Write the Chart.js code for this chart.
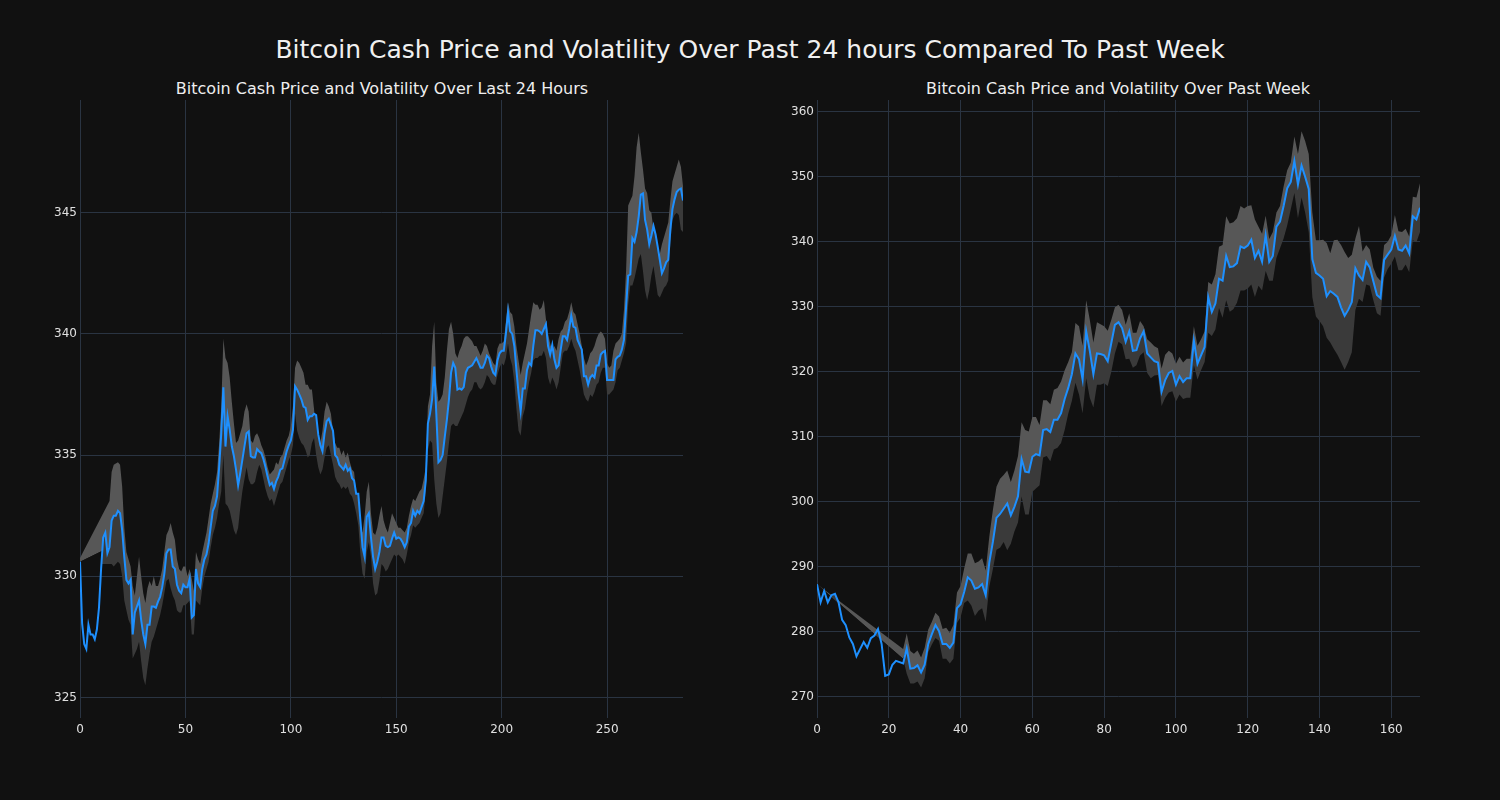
<!DOCTYPE html>
<html lang="en">
<head>
    <meta charset="UTF-8">
    <title>Bitcoin Cash Price and Volatility</title>
    <script src="https://cdn.jsdelivr.net/npm/chart.js"></script>
    <style>
        body {
            margin: 0;
            background: #111111;
            width: 1500px;
            height: 800px;
            overflow: hidden;
            font-family: "DejaVu Sans", sans-serif;
        }
        #mainTitle {
            position: absolute;
            left: 0;
            top: 35px;
            width: 1500px;
            text-align: center;
            line-height: 30px;
            font-size: 25px;
            color: #f0f0f0;
        }
        .subTitle {
            position: absolute;
            top: 79px;
            width: 700px;
            text-align: center;
            line-height: 20px;
            font-size: 16px;
            color: #eeeeee;
        }
        canvas {
            position: absolute;
            top: 70px;
        }
    </style>
</head>
<body>
    <div id="mainTitle">Bitcoin Cash Price and Volatility Over Past 24 hours Compared To Past Week</div>
    <div class="subTitle" style="left:32px">Bitcoin Cash Price and Volatility Over Last 24 Hours</div>
    <div class="subTitle" style="left:768px">Bitcoin Cash Price and Volatility Over Past Week</div>
    <canvas id="dayChart" width="700" height="680" style="left:0px"></canvas>
    <canvas id="weekChart" width="700" height="680" style="left:737px"></canvas>

    <script>
        // ---- last 24 hours (x = 0..286) ----
        const dayPrice = [
            330.6, 328.06, 327.2, 327.0, 328.0, 327.6, 327.6, 327.4, 327.8, 328.7,
            330.3, 331.6, 331.8, 330.95, 331.2, 332.3, 332.5, 332.5, 332.7, 332.6,
            331.9, 330.8, 329.85, 329.7, 329.85, 327.6, 328.5, 328.75, 329.0, 328.2,
            327.6, 327.2, 328.0, 328.0, 328.75, 328.75, 328.7, 328.95, 329.15, 329.55,
            330.1, 330.95, 331.1, 331.1, 330.4, 330.3, 329.65, 329.4, 329.3, 329.65,
            329.55, 329.55, 329.9, 328.3, 328.4, 330.3, 329.7, 329.55, 330.3, 330.7,
            330.9, 331.35, 332.05, 332.7, 332.9, 333.3, 334.5, 335.9, 337.8, 335.35,
            336.6, 336.05, 335.36, 334.95, 334.4, 333.75, 334.25, 334.8, 335.36, 335.9,
            335.97, 334.95, 334.9, 334.9, 335.25, 335.15, 335.08, 334.83, 334.5, 334.1,
            333.76, 333.85, 333.6, 333.9, 334.1, 334.4, 334.45, 334.8, 335.15, 335.4,
            335.6, 336.05, 337.84, 337.7, 337.5, 337.3, 337.0, 336.95, 336.45, 336.6,
            336.6, 336.7, 336.65, 335.85, 335.4, 335.15, 335.9, 336.4, 336.5, 336.25,
            336.0, 335.0, 334.9, 334.6, 334.5, 334.4, 334.6, 334.35, 334.45, 334.05,
            333.95, 333.4, 333.4, 332.3, 331.2, 330.8, 332.45, 332.6, 331.6, 330.8,
            330.3, 330.6, 331.0, 331.6, 331.6, 331.25, 331.2, 331.25, 331.55, 331.8,
            331.55, 331.6, 331.55, 331.4, 331.2, 331.4, 332.05, 332.2, 332.7, 332.5,
            332.7, 332.6, 332.85, 333.1, 333.95, 336.3, 336.7, 337.3, 338.65, 336.7,
            334.7, 334.8, 335.0, 335.75, 336.45, 337.3, 338.4, 338.8, 338.6, 337.7,
            337.75, 337.7, 337.8, 338.4, 338.6, 338.65, 338.7, 338.85, 339.0, 338.8,
            338.6, 338.6, 338.8, 339.1, 339.0, 338.65, 338.4, 338.3, 338.9, 339.2,
            339.3, 339.3, 340.0, 340.9, 340.1, 340.0, 339.5, 338.5, 337.55, 336.8,
            337.75, 337.75, 338.5, 338.8, 338.7, 339.5, 340.15, 340.15, 340.1, 340.0,
            340.2, 340.4, 339.5, 339.15, 339.55, 338.95, 338.6, 338.7, 339.35, 339.9,
            339.9, 339.75, 340.2, 340.75, 340.3, 340.25, 339.75, 339.55, 339.35, 338.25,
            338.25, 337.9, 338.2, 338.3, 338.2, 338.7, 338.7, 339.15, 339.25, 339.3,
            338.1, 338.1, 338.1, 338.1, 338.95, 339.05, 339.1, 339.35, 339.75, 341.1,
            342.4, 342.45, 343.95, 343.8, 344.2, 344.85, 345.75, 345.8, 344.7, 344.3,
            343.7, 344.05, 344.45, 344.1, 343.6, 343.05, 342.5, 342.7, 342.95, 343.05,
            344.3, 345.15, 345.55, 345.85, 345.95, 346.0, 345.5
        ];
        // volatility band starts at x=0, then is defined from x=14 on
        const dayBandStart = 14;
        const dayUpper = [
            330.75, 333.1,
            334.3, 334.6, 334.65, 334.7, 334.6, 333.7, 332.0, 331.0, 330.7, 330.4,
            329.6, 329.2, 330.0, 330.8, 330.0, 329.3, 328.9, 329.5, 329.8, 329.6,
            330.0, 329.6, 329.6, 329.9, 330.3, 331.0, 331.7, 331.9, 332.2, 331.8,
            331.5, 330.7, 330.3, 330.2, 330.4, 330.4, 330.0, 330.3, 329.9, 329.4,
            331.0, 330.7, 330.5, 331.0, 331.4, 331.8, 332.4, 333.0, 333.4, 333.8,
            334.3, 335.5, 337.0, 339.8, 339.0, 338.8, 338.2, 337.2, 336.3, 335.5,
            335.6, 335.9, 336.2, 336.8, 337.1, 336.8, 335.6, 335.5, 335.8, 335.9,
            335.7, 335.4, 335.2, 334.9, 334.5, 334.2, 334.3, 334.4, 334.7, 334.6,
            334.9, 335.0, 335.3, 335.6, 335.8, 336.2, 337.0, 338.6, 338.9, 338.8,
            338.6, 338.4, 337.9, 337.9, 337.7, 337.7, 336.9, 335.8, 335.5, 335.5,
            336.0, 336.8, 337.2, 337.0, 336.7, 336.0, 335.5, 335.3, 335.3, 335.0,
            335.2, 334.9, 335.1, 334.7, 334.4, 334.3, 333.4, 332.7, 332.0, 331.8,
            332.5, 333.5, 333.9, 332.6, 331.8, 331.7, 332.0, 332.5, 332.9, 332.3,
            332.0, 331.8, 332.2, 332.6, 332.4, 332.2, 332.0, 332.0, 331.9, 331.8,
            332.0, 332.5, 332.9, 333.2, 333.1, 333.3, 333.5, 333.6, 334.0, 334.5,
            337.0, 337.5, 339.5, 340.5, 338.0, 337.2, 337.3, 337.5, 338.2, 339.3,
            340.2, 340.5, 340.0, 339.2, 339.0, 339.3, 339.5, 339.8, 339.9, 339.9,
            339.8, 339.7, 339.5, 339.5, 339.3, 339.1, 339.3, 339.6, 339.5, 339.2,
            339.0, 338.8, 338.7, 339.4, 339.6, 339.6, 339.7, 340.5, 341.3, 340.9,
            340.8, 340.3, 339.5, 338.9, 338.3, 338.8, 339.2, 339.6, 340.2, 340.8,
            341.3, 341.2, 341.2, 341.0, 341.1, 341.4, 340.6, 340.0, 339.6, 339.3,
            339.5, 339.3, 339.8, 340.1, 340.2, 340.5, 340.6, 340.9, 341.3, 340.9,
            340.8, 340.4, 340.0, 339.5, 339.0, 338.7, 338.9, 339.2, 339.3, 339.5,
            339.8, 340.0, 340.1, 340.0, 339.8, 338.8, 338.6, 338.7, 339.3, 339.6,
            339.7, 339.8, 340.0, 341.0, 342.6, 345.3, 345.5, 345.7, 346.5, 347.7,
            348.3, 347.5, 346.8, 346.0, 345.8, 345.1, 345.0, 344.3, 343.6, 343.2,
            343.3, 343.7, 344.0, 344.3, 344.6, 345.5, 346.3, 346.6, 346.9, 347.2,
            346.9, 346.1
        ];
        const dayLower = [
            330.5, 330.5,
            330.5, 330.4, 330.5, 330.6, 330.5, 330.0, 329.0, 328.6, 328.2, 328.0,
            326.6, 326.8, 327.0, 327.3, 326.5, 325.8, 325.5, 326.2, 326.8, 327.3,
            327.5, 327.8, 328.1, 328.4, 328.8, 329.3, 329.8, 329.9, 329.5, 329.2,
            329.0, 328.6, 328.5, 328.5, 328.8, 328.8, 328.9, 329.0, 327.6, 327.6,
            329.0, 328.9, 328.8, 329.5, 330.0, 330.3, 330.6, 331.2, 331.7, 332.0,
            332.4, 333.0, 333.5, 335.0, 333.0, 332.9, 332.7, 332.3, 331.9, 331.7,
            332.0, 332.8, 333.5, 334.0, 334.5, 334.0, 333.8, 333.8, 333.9, 334.3,
            334.6, 334.4, 334.0, 333.6, 333.3, 333.1, 333.2, 332.9, 333.2, 333.5,
            333.8, 333.9, 334.2, 334.5, 334.8, 335.0, 335.4, 336.7, 336.0, 335.7,
            335.5, 335.4, 335.2, 334.9, 335.0, 335.5, 335.7, 335.0, 334.5, 334.2,
            334.4, 334.9, 335.3, 335.4, 335.0, 334.6, 334.1, 333.9, 333.8, 333.6,
            333.7, 333.6, 333.7, 333.4, 333.3, 333.0, 332.6, 332.1, 330.9, 330.1,
            329.9, 331.0, 331.4, 330.8, 329.7, 329.2, 329.3, 329.8, 330.5, 330.4,
            330.2, 330.3, 330.5, 330.7, 330.9, 330.8, 330.9, 330.8, 330.7, 330.5,
            330.9, 331.4, 331.7, 332.1, 332.0, 332.1, 332.2, 332.4, 332.6, 333.5,
            335.2, 335.6, 335.5, 334.0, 333.0, 332.4, 332.6, 333.3, 334.0, 334.7,
            335.5, 336.2, 336.3, 336.2, 336.2, 336.4, 336.6, 336.8, 337.1, 337.4,
            337.6, 337.7, 338.0, 338.0, 337.8, 337.7, 337.8, 338.0, 338.3, 338.2,
            338.0, 337.9, 337.9, 338.3, 338.6, 338.8, 338.7, 339.0, 339.6, 339.0,
            338.7, 338.0, 336.9, 336.0, 335.8, 336.6, 336.9, 337.5, 338.0, 338.4,
            338.9, 339.0, 339.0, 339.1, 339.1, 339.3, 339.0, 338.2, 337.9, 338.2,
            338.0, 337.7, 338.0, 338.6, 339.2, 339.3, 339.3, 339.5, 339.8, 339.5,
            339.3, 338.9, 338.5, 338.0, 337.5, 337.3, 337.2, 337.5, 337.4, 337.6,
            337.9, 338.0, 338.4, 338.6, 338.6, 337.5, 337.5, 337.6, 337.7, 338.0,
            338.5, 338.6, 338.9, 339.2, 339.6, 341.2, 342.0, 342.0, 342.3, 342.7,
            343.1, 343.3, 342.6, 341.8, 341.4, 341.8, 342.4, 342.8, 342.2, 341.6,
            341.5, 341.7, 341.9, 342.0, 342.2, 343.8, 344.7, 344.9, 345.0, 344.9,
            344.3, 344.2
        ];
        const dayXTicks = [0, 50, 100, 150, 200, 250];
        const dayYTicks = [325, 330, 335, 340, 345];

        // ---- past week (x = 0..168) ----
        const weekPrice = [
            287.3, 284.5, 286.25, 284.5, 285.6, 285.8, 284.5, 281.8, 281.0, 279.1,
            278.1, 276.2, 277.3, 278.4, 277.5, 279.0, 279.4, 280.4, 278.1, 273.2,
            273.4, 274.9, 275.5, 275.3, 275.1, 277.4, 274.3, 274.4, 274.8, 273.7,
            274.9, 278.1, 279.6, 281.0, 280.05, 278.1, 278.1, 277.5, 278.3, 283.6,
            284.2, 286.1, 288.35, 287.85, 286.6, 286.8, 287.3, 285.6, 290.6, 293.8,
            297.5, 298.1, 298.9, 299.7, 297.9, 299.2, 300.8, 306.55, 304.6, 304.5,
            306.9, 307.3, 307.1, 311.0, 311.15, 310.7, 312.6, 312.6, 313.6, 315.8,
            317.5, 319.6, 322.8, 321.9, 318.8, 326.2, 323.2, 319.6, 322.8, 322.7,
            322.5, 321.6, 324.4, 327.2, 327.6, 326.7, 324.6, 326.2, 323.2, 323.3,
            325.1, 326.2, 322.8, 322.2, 321.6, 321.4, 316.9, 318.7, 319.8, 320.1,
            318.0, 319.3, 318.4, 319.0, 319.0, 324.75, 321.2, 322.5, 323.8, 331.45,
            329.2, 330.5, 334.3, 334.0, 337.8, 336.1, 336.2, 336.7, 339.25, 339.0,
            339.4, 340.3, 337.5, 338.6, 336.9, 341.0, 336.9, 337.8, 342.3, 343.1,
            345.5, 348.2, 349.2, 352.4, 348.8, 351.7, 350.0, 348.1, 337.3, 335.2,
            334.8, 334.3, 331.6, 332.4, 332.0, 331.5, 329.9, 328.6, 329.5, 330.7,
            335.9, 334.8, 334.1, 336.9, 336.05, 333.9, 331.8, 331.3, 337.2, 338.0,
            338.8, 340.9, 338.8, 338.6, 339.4, 338.2, 343.9, 343.4, 345.2
        ];
        // volatility band starts at x=0, then is defined from x=24 on
        const weekBandStart = 24;
        const weekUpper = [
            287.3, 277.3,
            279.7, 277.0, 276.6, 277.1, 276.0, 277.5, 280.3, 281.5, 282.9, 282.3,
            280.4, 280.6, 279.8, 281.0, 286.0, 287.0, 289.7, 292.0, 292.0, 290.5,
            290.8, 291.3, 289.4, 294.6, 298.7, 302.3, 303.5, 304.1, 304.8, 303.0,
            304.8, 307.0, 312.2, 311.0, 310.8, 313.0, 313.0, 311.8, 315.6, 315.6,
            315.0, 317.2, 317.5, 318.5, 320.2, 321.5, 323.0, 327.5, 327.0, 324.0,
            331.0, 328.0, 324.5, 327.6, 327.3, 327.0, 326.3, 328.0, 329.9, 330.3,
            329.5, 327.2, 329.0, 326.0, 326.0, 327.8, 327.0, 325.0, 324.5, 323.9,
            323.6, 320.5, 322.6, 323.2, 322.8, 321.2, 322.3, 321.4, 322.0, 322.0,
            327.0, 324.0, 325.0, 326.2, 333.8, 333.4, 335.0, 339.2, 339.5, 343.9,
            342.8, 343.0, 343.6, 345.5, 345.1, 345.5, 345.6, 343.4, 342.3, 341.2,
            344.0, 340.4, 341.5, 344.5, 345.5, 348.5, 351.0, 352.2, 356.2, 353.5,
            357.0, 355.5, 353.5, 344.5, 340.2, 340.2, 340.3, 339.8, 338.2, 340.2,
            340.3, 339.5, 338.4, 337.5, 338.0, 340.5, 342.4, 338.5, 339.5, 338.8,
            336.0, 334.6, 334.0, 339.5, 340.0, 341.0, 344.1, 341.6, 341.5, 342.0,
            340.8, 346.9, 346.8, 349.0
        ];
        const weekLower = [
            287.2, 275.8,
            273.5, 272.0, 272.0, 272.3, 271.4, 272.8, 276.8, 278.0, 279.0, 278.6,
            275.8, 275.8, 275.1, 275.8, 281.3, 282.2, 284.4, 284.8, 284.0, 282.4,
            283.2, 283.6, 281.5, 286.9, 289.6, 292.6, 292.9, 293.8, 292.5, 293.5,
            295.4, 296.8, 300.8, 298.0, 298.0, 301.5, 302.0, 302.5, 306.8, 307.0,
            306.2, 308.0, 308.3, 309.0, 311.0, 313.5, 315.5, 318.3, 316.5, 313.6,
            319.0, 316.0, 314.5, 318.0, 318.0, 318.2, 317.8, 320.0, 322.8, 324.6,
            324.2, 321.9, 322.0, 320.6, 321.0, 322.5, 323.0, 319.8, 319.0, 319.4,
            319.5, 314.7, 316.0, 316.8, 317.0, 315.4, 316.5, 315.8, 316.0, 316.0,
            321.0, 318.8, 320.2, 321.5, 326.0, 325.5, 326.5, 329.8, 328.3, 331.0,
            329.2, 329.6, 330.6, 332.5, 332.5, 332.8, 333.4, 331.5, 333.2, 332.5,
            335.5, 334.0, 334.0, 337.5, 339.0, 340.5, 342.5, 345.0, 347.5, 343.6,
            346.8, 344.5, 341.5, 331.5, 328.5, 327.8, 327.0, 325.2, 324.5, 323.5,
            322.6, 321.5, 320.3, 321.5, 323.0, 329.5, 331.2, 330.7, 333.4, 333.2,
            331.0, 329.0, 328.6, 334.5, 335.8, 336.6, 337.7, 335.6, 335.6, 336.5,
            335.3, 340.2, 339.9, 341.5
        ];
        const weekXTicks = [0, 20, 40, 60, 80, 100, 120, 140, 160];
        const weekYTicks = [270, 280, 290, 300, 310, 320, 330, 340, 350, 360];

        const LINE_COLOR = '#1e90ff';
        const BAND_UP = '#575757';
        const BAND_DOWN = '#3a3a3a';
        const GRID = '#2a3442';
        const TICK = '#e0e0e0';

        function bandXs(start, last) {
            const xs = [0];
            for (let x = start; x <= last; x++) xs.push(x);
            return xs;
        }

        function createChart(canvasId, price, bandStart, upper, lower, xTicks, yTicks, xMax, yMin, yMax) {
            const xs = bandXs(bandStart, price.length - 1);
            const linePts = price.map((v, i) => ({ x: i, y: v }));
            const upperPts = upper.map((v, i) => ({ x: xs[i], y: v }));
            const lowerPts = lower.map((v, i) => ({ x: xs[i], y: v }));
            // edge between the light (upper) and dark (lower) part of the band
            const midPts = lower.map((v, i) => ({ x: xs[i], y: Math.max(v, price[xs[i]]) }));

            const ctx = document.getElementById(canvasId).getContext('2d');
            new Chart(ctx, {
                type: 'line',
                data: {
                    datasets: [
                        {
                            label: 'Price',
                            data: linePts,
                            borderColor: LINE_COLOR,
                            borderWidth: 2,
                            pointRadius: 0,
                            tension: 0,
                            fill: false,
                            order: 0
                        },
                        {
                            label: 'upper',
                            data: upperPts,
                            borderWidth: 0,
                            borderColor: 'rgba(0,0,0,0)',
                            pointRadius: 0,
                            fill: { target: 2, above: BAND_UP, below: 'rgba(0,0,0,0)' },
                            order: 2
                        },
                        {
                            label: 'mid',
                            data: midPts,
                            borderWidth: 0,
                            borderColor: 'rgba(0,0,0,0)',
                            pointRadius: 0,
                            fill: false,
                            order: 3
                        },
                        {
                            label: 'lower',
                            data: lowerPts,
                            borderWidth: 0,
                            borderColor: 'rgba(0,0,0,0)',
                            pointRadius: 0,
                            fill: { target: 0, above: 'rgba(0,0,0,0)', below: BAND_DOWN },
                            order: 1
                        }
                    ]
                },
                options: {
                    responsive: false,
                    animation: false,
                    devicePixelRatio: 1,
                    layout: { padding: { left: 0, right: 17, top: 30, bottom: 0 } },
                    plugins: {
                        legend: { display: false },
                        tooltip: { enabled: false },
                        title: { display: false }
                    },
                    scales: {
                        x: {
                            type: 'linear',
                            min: 0,
                            max: xMax,
                            afterBuildTicks: s => { s.ticks = xTicks.map(v => ({ value: v })); },
                            afterFit: s => { s.height = 32; },
                            border: { display: false },
                            grid: { color: GRID, lineWidth: 1, drawTicks: false },
                            ticks: {
                                color: TICK,
                                padding: 5,
                                maxRotation: 0,
                                font: { family: 'DejaVu Sans', size: 12 }
                            }
                        },
                        y: {
                            type: 'linear',
                            min: yMin,
                            max: yMax,
                            afterBuildTicks: s => { s.ticks = yTicks.map(v => ({ value: v })); },
                            afterFit: s => { s.width = 80; },
                            border: { display: false },
                            grid: { color: GRID, lineWidth: 1, drawTicks: false },
                            ticks: {
                                color: TICK,
                                padding: 3,
                                font: { family: 'DejaVu Sans', size: 12 }
                            }
                        }
                    }
                }
            });
        }

        createChart('dayChart', dayPrice, dayBandStart, dayUpper, dayLower,
            dayXTicks, dayYTicks, 286, 324.15, 349.65);
        createChart('weekChart', weekPrice, weekBandStart, weekUpper, weekLower,
            weekXTicks, weekYTicks, 168, 266.7, 361.8);
    </script>
</body>
</html>
